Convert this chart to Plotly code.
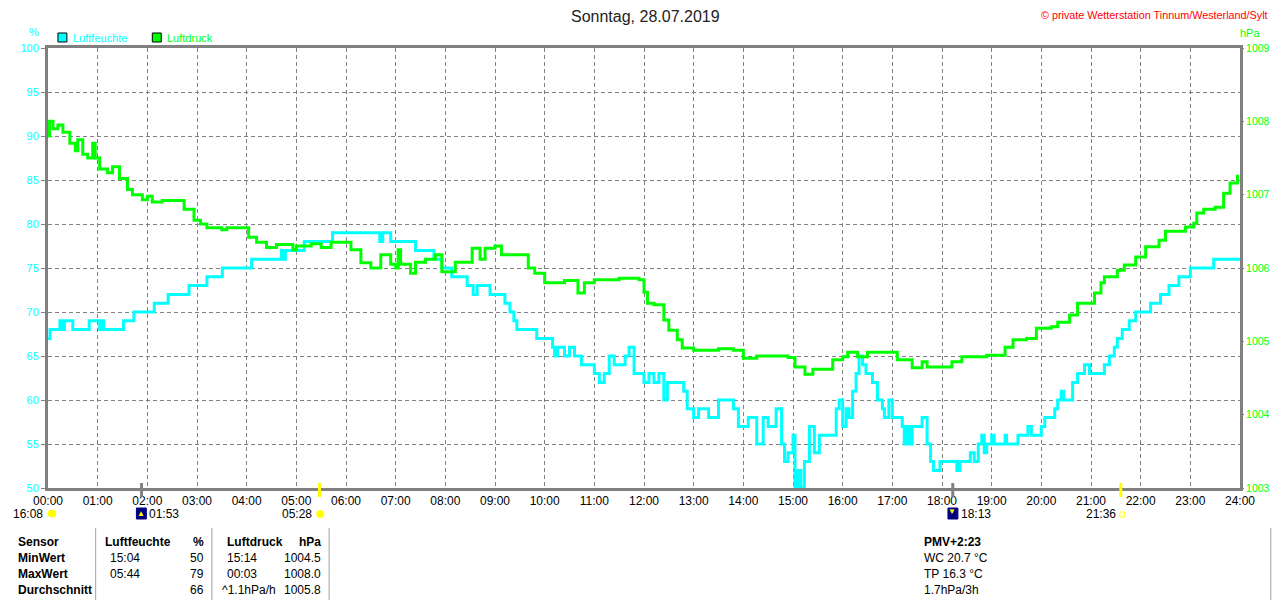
import plotly.graph_objects as go

# Luftfeuchte (%) - time in hours, stepwise readings
hum_t = [0.00, 0.04, 0.24, 0.30, 0.33, 0.46, 0.50, 0.83, 1.04, 1.08, 1.12, 1.17, 1.52, 1.73,
         2.14, 2.42, 2.84, 3.20, 3.51, 4.10, 4.70, 4.74, 4.78, 5.16, 5.73, 6.68, 6.74, 6.90,
         7.40, 7.77, 7.93, 8.13, 8.44, 8.56, 8.64, 8.90, 9.20, 9.30, 9.38, 9.44, 9.84, 10.16,
         10.20, 10.26, 10.40, 10.50, 10.60, 10.74, 11.00, 11.10, 11.20, 11.30, 11.40, 11.62,
         11.70, 11.80, 12.00, 12.10, 12.20, 12.30, 12.40, 12.47, 12.80, 12.87, 13.00, 13.10,
         13.30, 13.50, 13.80, 13.90, 14.10, 14.27, 14.40, 14.50, 14.66, 14.77, 14.83, 14.90,
         15.00, 15.04, 15.10, 15.16, 15.23, 15.33, 15.43, 15.53, 15.80, 15.87, 15.93, 16.00,
         16.07, 16.13, 16.20, 16.27, 16.33, 16.40, 16.47, 16.60, 16.70, 16.80, 16.84, 16.93,
         17.00, 17.20, 17.24, 17.30, 17.35, 17.40, 17.60, 17.70, 17.77, 17.83, 17.96, 18.30,
         18.36, 18.57, 18.65, 18.73, 18.80, 18.85, 18.90, 19.00, 19.05, 19.27, 19.30, 19.53,
         19.73, 19.80, 20.00, 20.07, 20.27, 20.33, 20.40, 20.45, 20.63, 20.73, 20.87, 20.97,
         21.27, 21.37, 21.47, 21.53, 21.63, 21.77, 21.90, 22.20, 22.40, 22.57, 22.77, 23.00,
         23.47, 24.00]
hum_v = [67, 68, 69, 68, 69, 69, 68, 69, 68, 69, 68, 68, 69, 70,
         71, 72, 73, 74, 75, 76, 77, 76, 77, 78, 79, 78, 79, 78,
         77, 76, 75, 74, 73, 72, 73, 72, 71, 70, 69, 68, 67, 66,
         65, 66, 65, 66, 65, 64, 63, 62, 63, 65, 64, 65,
         66, 63, 62, 63, 62, 63, 60, 62, 61, 59, 58, 59,
         58, 60, 59, 57, 58, 55, 58, 57, 59, 55, 53, 54,
         56, 50, 52, 50, 53, 57, 54, 56, 56, 59, 60, 57,
         59, 58, 61, 63, 65, 64, 63, 62, 60, 59, 58, 60,
         58, 57, 55, 57, 55, 57, 58, 55, 53, 52, 53, 52,
         53, 54, 53, 55, 56, 54, 55, 56, 55, 56, 55, 56,
         57, 56, 57, 58, 59, 60, 61, 60, 62, 63, 64, 63,
         64, 65, 66, 67, 68, 69, 70, 71, 72, 73, 74, 75,
         76, 76]

# Luftdruck (hPa)
prs_t = [0.00, 0.03, 0.10, 0.20, 0.30, 0.44, 0.55, 0.60, 0.70, 0.80, 0.90, 0.95, 1.04, 1.20,
         1.30, 1.44, 1.60, 1.70, 1.90, 2.00, 2.10, 2.30, 2.74, 2.94, 3.07, 3.20, 3.50, 3.60,
         4.04, 4.20, 4.40, 4.60, 4.93, 5.00, 5.30, 5.50, 5.70, 6.10, 6.30, 6.50, 6.70, 6.90,
         7.00, 7.05, 7.10, 7.30, 7.40, 7.60, 7.80, 7.93, 8.20, 8.54, 8.70, 8.80, 9.00, 9.13,
         9.60, 9.67, 9.80, 10.00, 10.40, 10.67, 10.80, 11.00, 11.50, 11.90, 12.00, 12.07,
         12.20, 12.40, 12.50, 12.67, 12.77, 13.00, 13.50, 13.80, 14.00, 14.27, 14.60, 14.90,
         15.04, 15.24, 15.40, 15.60, 15.80, 16.00, 16.10, 16.30, 16.50, 16.90, 17.10, 17.40,
         17.60, 17.70, 18.00, 18.20, 18.40, 18.90, 19.27, 19.43, 19.70, 19.90, 20.20, 20.33,
         20.57, 20.73, 21.07, 21.20, 21.27, 21.53, 21.67, 21.90, 22.10, 22.37, 22.50, 22.90,
         23.07, 23.13, 23.27, 23.50, 23.67, 23.80, 23.95]
prs_v = [1007.80, 1008.00, 1007.90, 1007.95, 1007.85, 1007.70, 1007.60, 1007.75, 1007.55, 1007.50,
         1007.70, 1007.50, 1007.35, 1007.30, 1007.38, 1007.22, 1007.07, 1007.00, 1006.93, 1006.98,
         1006.90, 1006.92, 1006.80, 1006.65, 1006.60, 1006.55, 1006.52, 1006.55, 1006.42, 1006.35,
         1006.28, 1006.32, 1006.25, 1006.30, 1006.33, 1006.28, 1006.35, 1006.25, 1006.07, 1006.00,
         1006.18, 1006.05, 1006.00, 1006.25, 1006.05, 1005.93, 1006.08, 1006.12, 1006.18, 1005.95,
         1006.08, 1006.27, 1006.12, 1006.27, 1006.30, 1006.18, 1006.18, 1006.00, 1005.93, 1005.80,
         1005.83, 1005.66, 1005.80, 1005.84, 1005.86, 1005.84, 1005.67, 1005.52, 1005.50, 1005.29,
         1005.15, 1005.02, 1004.91, 1004.88, 1004.90, 1004.88, 1004.77, 1004.80, 1004.80, 1004.78,
         1004.65, 1004.55, 1004.62, 1004.62, 1004.75, 1004.79, 1004.85, 1004.79, 1004.85, 1004.85,
         1004.75, 1004.64, 1004.72, 1004.65, 1004.65, 1004.72, 1004.79, 1004.81, 1004.92, 1005.02,
         1005.04, 1005.18, 1005.20, 1005.26, 1005.36, 1005.52, 1005.66, 1005.80, 1005.88, 1005.97,
         1006.04, 1006.15, 1006.29, 1006.38, 1006.50, 1006.56, 1006.61, 1006.75, 1006.80, 1006.83,
         1007.02, 1007.16, 1007.27]

hours = list(range(25))
hour_labels = [f"{h:02d}:00" for h in hours]

# sun / moon events below the axis
event_labels = ["16:08", "01:53", "05:28", "18:13", "21:36"]
event_hours = [1 + 53 / 60, 5 + 28 / 60, 18 + 13 / 60, 21 + 36 / 60]
event_colors = ["#808080", "#ffff00", "#808080", "#ffff00"]

# statistics table
row_labels = ["Sensor", "MinWert", "MaxWert", "Durchschnitt"]
hum_times = ["", "15:04", "05:44", ""]
hum_stats = ["%", "50", "79", "66"]
prs_times = ["", "15:14", "00:03", "^1.1hPa/h"]
prs_stats = ["hPa", "1004.5", "1008.0", "1005.8"]
extra_lines = ["PMV+2:23", "WC 20.7 °C", "TP 16.3 °C", "1.7hPa/3h"]

CYAN = "#00ffff"
GREEN = "#00ff00"
GRID = "#808080"
FONT = "Liberation Sans, Arial, sans-serif"


def px(x, y):
    # pixel position -> paper coordinates (plot area 40..1240 x 48..488)
    return (x - 40) / 1200, (488 - y) / 440


fig = go.Figure()
fig.add_trace(go.Scatter(x=prs_t, y=prs_v, yaxis="y2", mode="lines", line_shape="hv",
                         line=dict(color=GREEN, width=3), name="Luftdruck"))
fig.add_trace(go.Scatter(x=hum_t, y=hum_v, mode="lines", line_shape="hv",
                         line=dict(color=CYAN, width=3), name="Luftfeuchte"))

ann = []
shapes = []


def text(x, y, s, color="black", size=12, anchor="left", bold=False):
    xp, yp = px(x, y)
    if bold:
        s = f"<b>{s}</b>"
    ann.append(dict(x=xp, y=yp, xref="paper", yref="paper", text=s, showarrow=False,
                    xanchor=anchor, yanchor="middle", font=dict(color=color, size=size, family=FONT)))


def rect(x0, y0, x1, y1, fill, line="black", kind="rect"):
    a0, b0 = px(x0, y0)
    a1, b1 = px(x1, y1)
    shapes.append(dict(type=kind, xref="paper", yref="paper", x0=a0, y0=b0, x1=a1, y1=b1,
                       fillcolor=fill, line=dict(color=line, width=1)))


def vline(x, y0, y1, color="#a0a0a0", width=1):
    a, b0 = px(x, y0)
    _, b1 = px(x, y1)
    shapes.append(dict(type="line", xref="paper", yref="paper", x0=a, x1=a, y0=b0, y1=b1,
                       line=dict(color=color, width=width)))


text(642, 17, "Sonntag, 28.07.2019", color="#222", size=16, anchor="center")
text(1270, 15, "© private Wetterstation Tinnum/Westerland/Sylt", color="red", size=10.8, anchor="right")
text(26, 32, "%", color=CYAN, size=11, anchor="center")
text(1250, 33, "hPa", color=GREEN, size=11, anchor="center")
rect(50, 33, 59, 42, CYAN)
text(63, 38, "Luftfeuchte", color=CYAN, size=11)
rect(145, 33, 154, 42, GREEN)
text(158, 38, "Luftdruck", color=GREEN, size=11)

# event markers on the time axis
for h, c in zip(event_hours, event_colors):
    yb0 = px(0, 497)[1]
    yb1 = px(0, 483)[1]
    shapes.append(dict(type="line", xref="x", yref="paper", x0=h, x1=h, y0=yb0, y1=yb1,
                       line=dict(color=c, width=3)))

text(37, 514, event_labels[0], anchor="right")
rect(40, 510, 48, 517, "#ffff00", line="#ffff00", kind="circle")
rect(129, 508, 139, 519, "#000080", line="#000080")
text(134, 513, "▲", color="#ffff00", size=8, anchor="center")
text(140, 514, event_labels[1])
text(308, 514, event_labels[2], anchor="right")
rect(310, 510, 318, 518, "#ffff00", line="#ffff80", kind="circle")
rect(946, 508, 956, 519, "#000080", line="#000080")
text(950, 512, "▼", color="#ffff00", size=8, anchor="center")
text(957, 514, event_labels[3])
text(1117, 514, event_labels[4], anchor="right")
rect(1119, 512, 1124, 517, "white", line="#ffff00")

# table
row_y = [542, 558, 574, 590]
for i, y in enumerate(row_y):
    text(8, y, row_labels[i], bold=True)
    text(100 if i else 95, y, hum_times[i] if i else "Luftfeuchte", bold=(i == 0))
    text(199, y, hum_stats[i], anchor="right", bold=(i == 0))
    text(218 if i < 3 else 213, y, prs_times[i] if i else "Luftdruck", bold=(i == 0))
    text(317, y, prs_stats[i], anchor="right", bold=(i == 0))
    text(920, y, extra_lines[i], bold=(i == 0))
for x in [88, 205, 323, 1271]:
    vline(x, 528, 600)

# the page adds an 8px body margin, so the layout is shifted up/left by 8px
fig.update_layout(
    width=1280, height=600,
    margin=dict(l=32, r=48, t=40, b=120),
    paper_bgcolor="white", plot_bgcolor="white",
    showlegend=False,
    font=dict(family=FONT, size=12, color="black"),
    xaxis=dict(range=[0, 24], tickvals=hours, ticktext=hour_labels, showgrid=True,
               gridcolor=GRID, griddash="4px,3px", gridwidth=1, zeroline=False,
               showline=True, linecolor=GRID, linewidth=3, mirror=True, ticks="",
               tickfont=dict(size=12, color="black")),
    yaxis=dict(range=[50, 100], dtick=5, showgrid=True, gridcolor=GRID, griddash="4px,3px",
               gridwidth=1, zeroline=False, showline=True, linecolor=GRID, linewidth=3,
               mirror=True, ticks="outside", ticklen=4, tickcolor=GRID,
               tickfont=dict(size=11, color=CYAN)),
    yaxis2=dict(range=[1003, 1009], dtick=1, overlaying="y", side="right", showgrid=False,
                zeroline=False, showline=False, ticks="outside", ticklen=3, tickcolor=GRID,
                tickfont=dict(size=10.5, color=GREEN)),
    annotations=ann,
    shapes=shapes,
)

fig.write_html("out.html")
